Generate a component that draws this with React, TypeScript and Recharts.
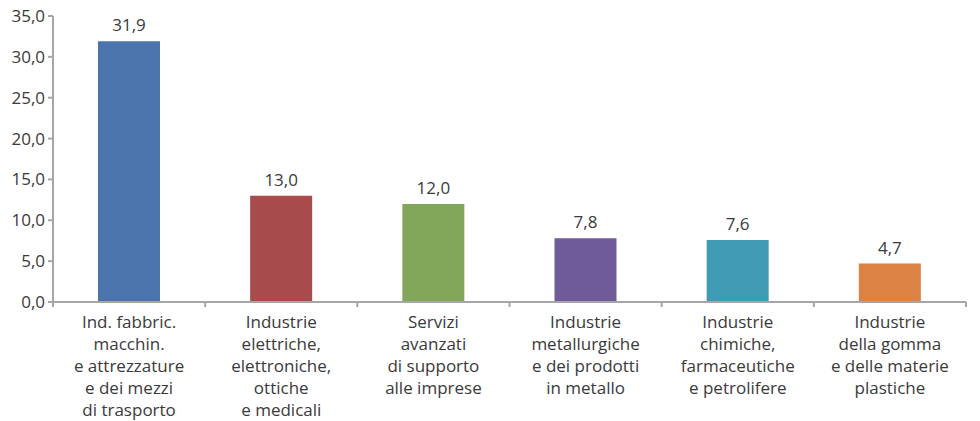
import React from 'react';
import { BarChart, Bar, XAxis, YAxis, Cell, LabelList } from 'recharts';

const categories = [
  'Ind. fabbric.\nmacchin.\ne attrezzature\ne dei mezzi\ndi trasporto',
  'Industrie\nelettriche,\nelettroniche,\nottiche\ne medicali',
  'Servizi\navanzati\ndi supporto\nalle imprese',
  'Industrie\nmetallurgiche\ne dei prodotti\nin metallo',
  'Industrie\nchimiche,\nfarmaceutiche\ne petrolifere',
  'Industrie\ndella gomma\ne delle materie\nplastiche',
];
const values = [31.9, 13.0, 12.0, 7.8, 7.6, 4.7];
const barColors = ['#4a74ab', '#a84b4c', '#83a75a', '#6f5b98', '#3f9bb3', '#dc8244'];
const yTicks = [0, 5, 10, 15, 20, 25, 30, 35];

const data = categories.map((name, i) => ({ name, value: values[i] }));

const AXIS = '#a6a6a6';
const TEXT = '#3a3a3a';
const FONT = '"Open Sans", sans-serif';
const FS = 17;

const fmt = (v: number) => v.toFixed(1).replace('.', ',');

const CategoryTick = (props: any) => {
  const { x, y, payload, index } = props;
  const half = payload.offset ?? 76;
  const lines = String(payload.value).split('\n');
  return (
    <g>
      <line x1={x + half} y1={y - 8} x2={x + half} y2={y - 3} stroke={AXIS} strokeWidth={2} />
      {index === 0 && (
        <line x1={x - half} y1={y - 8} x2={x - half} y2={y - 3} stroke={AXIS} strokeWidth={2} />
      )}
      <text x={x} y={y} textAnchor="middle" fill={TEXT} fontSize={FS} fontFamily={FONT}>
        {lines.map((l, i) => (
          <tspan key={i} x={x} dy={i === 0 ? 18 : 22}>
            {l}
          </tspan>
        ))}
      </text>
    </g>
  );
};

export default function App() {
  return (
    <div style={{ position: 'absolute', left: 0, top: 0, background: '#fff' }}>
      <BarChart
        width={980}
        height={421}
        data={data}
        margin={{ top: 16, right: 14, left: 0, bottom: 0 }}
      >
        <XAxis
          dataKey="name"
          interval={0}
          height={119}
          axisLine={{ stroke: AXIS, strokeWidth: 2 }}
          tickLine={false}
          tick={<CategoryTick />}
        />
        <YAxis
          domain={[0, 35]}
          ticks={yTicks}
          width={53}
          tickFormatter={fmt}
          axisLine={{ stroke: AXIS, strokeWidth: 2 }}
          tickLine={{ stroke: AXIS, strokeWidth: 2 }}
          tickSize={5}
          tickMargin={3}
          tick={{ fill: TEXT, fontSize: FS, fontFamily: FONT }}
        />
        <Bar dataKey="value" barSize={62} isAnimationActive={false}>
          {data.map((_, i) => (
            <Cell key={i} fill={barColors[i]} />
          ))}
          <LabelList
            dataKey="value"
            position="top"
            offset={10}
            formatter={(v: any) => fmt(Number(v))}
            fill={TEXT}
            fontSize={FS}
            fontFamily={FONT}
          />
        </Bar>
      </BarChart>
    </div>
  );
}
